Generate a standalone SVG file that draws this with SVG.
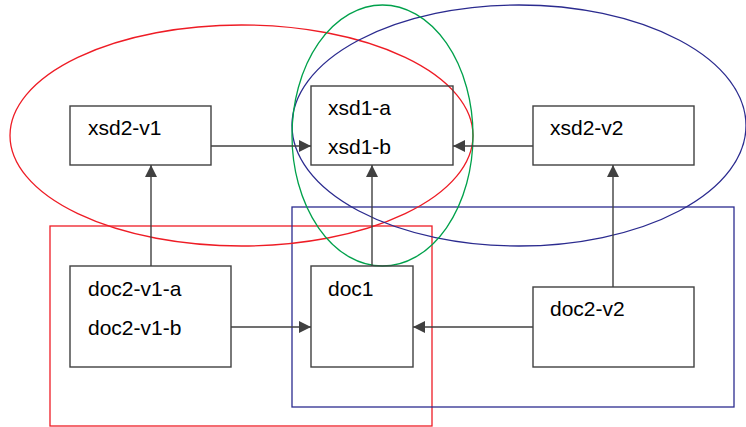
<svg xmlns="http://www.w3.org/2000/svg" width="746" height="427" viewBox="0 0 746 427">
<style>
.box{fill:none;stroke:#404040;stroke-width:1.4}
.t{font-family:"Liberation Sans",Arial,sans-serif;font-size:21px;fill:#000}
.c{stroke:#404040;stroke-width:1.4;fill:none;marker-end:url(#ah)}
.red{fill:none;stroke:#ee1c25;stroke-width:1.3}
.blue{fill:none;stroke:#2b2b8f;stroke-width:1.3}
.green{fill:none;stroke:#00a14b;stroke-width:1.3}
</style>
<defs>
<marker id="ah" viewBox="0 0 12 12" refX="12" refY="6" markerWidth="12" markerHeight="12" markerUnits="userSpaceOnUse" orient="auto">
<path d="M0,0 L12,6 L0,12 Z" fill="#404040"/>
</marker>
</defs>
<rect width="746" height="427" fill="#fff"/>
<g id="groups">
<rect class="red" x="50" y="226" width="382" height="200"/>
<rect class="blue" x="292" y="207" width="442" height="200"/>
<ellipse class="red" cx="241.5" cy="135.5" rx="231.5" ry="110.5"/>
<ellipse class="blue" cx="519" cy="125.5" rx="227" ry="120.5"/>
<ellipse class="green" cx="382.5" cy="135.5" rx="90.5" ry="130.5"/>
</g>
<g id="connectors">
<line class="c" x1="211" y1="146" x2="311" y2="146"/>
<line class="c" x1="533" y1="146" x2="453" y2="146"/>
<line class="c" x1="151" y1="266" x2="151" y2="165"/>
<line class="c" x1="372" y1="266" x2="372" y2="165"/>
<line class="c" x1="613" y1="287" x2="613" y2="165"/>
<line class="c" x1="231" y1="327" x2="311" y2="327"/>
<line class="c" x1="533" y1="327" x2="413" y2="327"/>
</g>
<g id="xsd2-v1">
<rect class="box" x="70" y="106" width="141" height="59"/>
<text class="t" x="88" y="135">xsd2-v1</text>
</g>
<g id="xsd1">
<rect class="box" x="311" y="86" width="142" height="79"/>
<text class="t" x="328" y="115">xsd1-a</text>
<text class="t" x="328" y="154">xsd1-b</text>
</g>
<g id="xsd2-v2">
<rect class="box" x="533" y="106" width="161" height="59"/>
<text class="t" x="550" y="135">xsd2-v2</text>
</g>
<g id="doc2-v1">
<rect class="box" x="70" y="266" width="161" height="101"/>
<text class="t" x="88" y="296">doc2-v1-a</text>
<text class="t" x="88" y="335">doc2-v1-b</text>
</g>
<g id="doc1">
<rect class="box" x="311" y="266" width="102" height="101"/>
<text class="t" x="328" y="296">doc1</text>
</g>
<g id="doc2-v2">
<rect class="box" x="533" y="287" width="161" height="80"/>
<text class="t" x="550" y="316">doc2-v2</text>
</g>
</svg>
